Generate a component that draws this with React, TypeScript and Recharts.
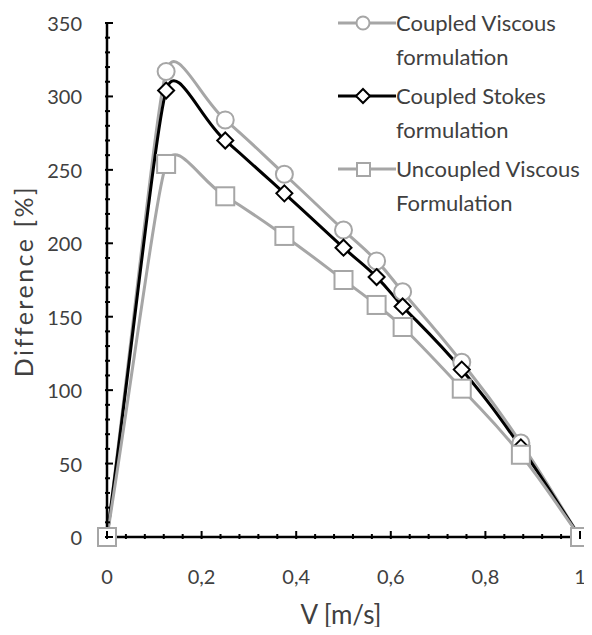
import React from 'react';
import { LineChart, Line, XAxis, YAxis, Legend } from 'recharts';

const xValues = [0, 0.125, 0.25, 0.375, 0.5, 0.57, 0.625, 0.75, 0.875, 1];
const coupledViscous = [0, 317, 284, 247, 209, 188, 167, 119, 64, 0];
const coupledStokes = [0, 304, 270, 234, 197, 177, 157, 114, 61, 0];
const uncoupledViscous = [0, 254, 232, 205, 175, 158, 143, 101, 56, 0];

const seriesNames = ['Coupled Viscous formulation', 'Coupled Stokes formulation', 'Uncoupled Viscous Formulation'];
const xMajorTicks = [0, 0.2, 0.4, 0.6, 0.8, 1];
const yMajorTicks = [0, 50, 100, 150, 200, 250, 300, 350];

const xAllTicks = Array.from({ length: 26 }, (_, i) => +(i * 0.04).toFixed(2));
const yAllTicks = Array.from({ length: 36 }, (_, i) => i * 10);

const data = xValues.map((v, i) => ({
  v,
  cv: coupledViscous[i],
  cs: coupledStokes[i],
  uv: uncoupledViscous[i],
}));

const GRAY = '#A6A6A6';
const TEXT = '#404040';
const FONT = 'Lato, "Open Sans", sans-serif';

// Excel-ish smoothed line: catmull-rom direction, handle length capped by the shorter neighbour segment
function excelCurve(context: any) {
  let pts: number[][] = [];
  return {
    areaStart() {},
    areaEnd() {},
    lineStart() { pts = []; },
    point(x: number, y: number) { pts.push([+x, +y]); },
    lineEnd() {
      const n = pts.length;
      if (!n) return;
      context.moveTo(pts[0][0], pts[0][1]);
      if (n === 1) return;
      const d = (a: number[], b: number[]) => Math.hypot(b[0] - a[0], b[1] - a[1]);
      const dir = (i: number) => {
        const a = pts[Math.max(i - 1, 0)], b = pts[Math.min(i + 1, n - 1)];
        const len = d(a, b) || 1;
        return [(b[0] - a[0]) / len, (b[1] - a[1]) / len];
      };
      const hl = (i: number) => {
        const segs: number[] = [];
        if (i > 0) segs.push(d(pts[i - 1], pts[i]));
        if (i < n - 1) segs.push(d(pts[i], pts[i + 1]));
        return Math.min(...segs) * 0.45;
      };
      for (let i = 0; i < n - 1; i++) {
        const a = pts[i], b = pts[i + 1];
        const da = dir(i), db = dir(i + 1);
        const la = hl(i), lb = hl(i + 1);
        context.bezierCurveTo(a[0] + da[0] * la, a[1] + da[1] * la, b[0] - db[0] * lb, b[1] - db[1] * lb, b[0], b[1]);
      }
    },
  };
}

const circleDot = (p: any) => (
  <circle key={`c${p.index}`} cx={p.cx} cy={p.cy} r={8.5} fill="#fff" stroke={GRAY} strokeWidth={2} />
);
const diamondDot = (p: any) => (
  <polygon key={`d${p.index}`} points={`${p.cx},${p.cy - 8} ${p.cx + 8},${p.cy} ${p.cx},${p.cy + 8} ${p.cx - 8},${p.cy}`} fill="#fff" stroke="#000" strokeWidth={2} />
);
const squareDot = (p: any) => (
  <rect key={`s${p.index}`} x={p.cx - 9} y={p.cy - 9} width={18} height={18} fill="#fff" stroke={GRAY} strokeWidth={2} />
);

const XTick = (props: any) => {
  const { x, y, payload } = props;
  const v = payload.value;
  const major = xMajorTicks.some(t => Math.abs(t - v) < 1e-6);
  return (
    <g>
      <line x1={x} x2={x} y1={y} y2={y - (major ? 8 : 5)} stroke="#000" strokeWidth={2} />
      {major && (
        <text x={x} y={y + 45} textAnchor="middle" fill={TEXT} fontSize={20} fontFamily={FONT}>
          {String(v).replace('.', ',')}
        </text>
      )}
    </g>
  );
};

const YTick = (props: any) => {
  const { x, y, payload } = props;
  const v = payload.value;
  const major = yMajorTicks.includes(v);
  return (
    <g>
      <line x1={x} x2={x + (major ? 8 : 5)} y1={y} y2={y} stroke="#000" strokeWidth={2} />
      {major && (
        <text x={x - 23} y={y} textAnchor="end" dominantBaseline="central" fill={TEXT} fontSize={20} fontFamily={FONT}>
          {v}
        </text>
      )}
    </g>
  );
};

const legendMarkers = [
  { color: GRAY, shape: 'circle' },
  { color: '#000', shape: 'diamond' },
  { color: GRAY, shape: 'square' },
];

const renderLegend = () => (
  <div style={{ fontFamily: FONT, fontSize: 22, color: TEXT }}>
    {seriesNames.map((name, i) => {
      const cut = name.lastIndexOf(' ');
      const m = legendMarkers[i];
      return (
        <div key={name} style={{ position: 'relative', height: 68, marginBottom: 5 }}>
          <svg width={58} height={24} style={{ position: 'absolute', left: 0, top: 5 }}>
            <line x1={0} x2={58} y1={12} y2={12} stroke={m.color} strokeWidth={3} />
            {m.shape === 'circle' && <circle cx={25} cy={12} r={6.5} fill="#fff" stroke={m.color} strokeWidth={2} />}
            {m.shape === 'diamond' && <polygon points="25,5 32,12 25,19 18,12" fill="#fff" stroke={m.color} strokeWidth={2} />}
            {m.shape === 'square' && <rect x={19} y={6} width={13} height={13} fill="#fff" stroke={m.color} strokeWidth={2} />}
          </svg>
          <div style={{ position: 'absolute', left: 58, top: 0, lineHeight: '34px', whiteSpace: 'nowrap' }}>
            {name.slice(0, cut)}<br />{name.slice(cut + 1)}
          </div>
        </div>
      );
    })}
  </div>
);

export default function App() {
  return (
    <div style={{ margin: -8, width: 592, height: 635, background: '#fff', fontFamily: FONT }}>
      <LineChart width={592} height={635} data={data} margin={{ top: 23, right: 12, left: 0, bottom: 0 }}>
        <XAxis
          dataKey="v"
          type="number"
          domain={[0, 1]}
          ticks={xAllTicks}
          interval={0}
          tickSize={0}
          tick={<XTick />}
          height={98}
          axisLine={{ stroke: '#000', strokeWidth: 2.5 }}
          label={{
            content: () => (
              <text x={341} y={624} textAnchor="middle" fill={TEXT} fontSize={26} fontFamily={FONT}>
                V [m/s]
              </text>
            ),
          }}
        />
        <YAxis
          type="number"
          domain={[0, 350]}
          ticks={yAllTicks}
          interval={0}
          tickSize={0}
          tick={<YTick />}
          width={107}
          axisLine={{ stroke: '#000', strokeWidth: 2.5 }}
          label={{
            content: () => (
              <text x={33} y={281} transform="rotate(-90 33 281)" textAnchor="middle" fill={TEXT} fontSize={25} letterSpacing={2.5} fontFamily={FONT}>
                Difference [%]
              </text>
            ),
          }}
        />
        <Legend layout="vertical" align="center" verticalAlign="middle" content={renderLegend} wrapperStyle={{ top: 6, left: 338, width: 254 }} />
        <Line dataKey="cv" name={seriesNames[0]} type={excelCurve as any} stroke={GRAY} strokeWidth={3} dot={circleDot} isAnimationActive={false} />
        <Line dataKey="cs" name={seriesNames[1]} type={excelCurve as any} stroke="#000" strokeWidth={3} dot={diamondDot} isAnimationActive={false} />
        <Line dataKey="uv" name={seriesNames[2]} type={excelCurve as any} stroke={GRAY} strokeWidth={3} dot={squareDot} isAnimationActive={false} />
      </LineChart>
    </div>
  );
}
